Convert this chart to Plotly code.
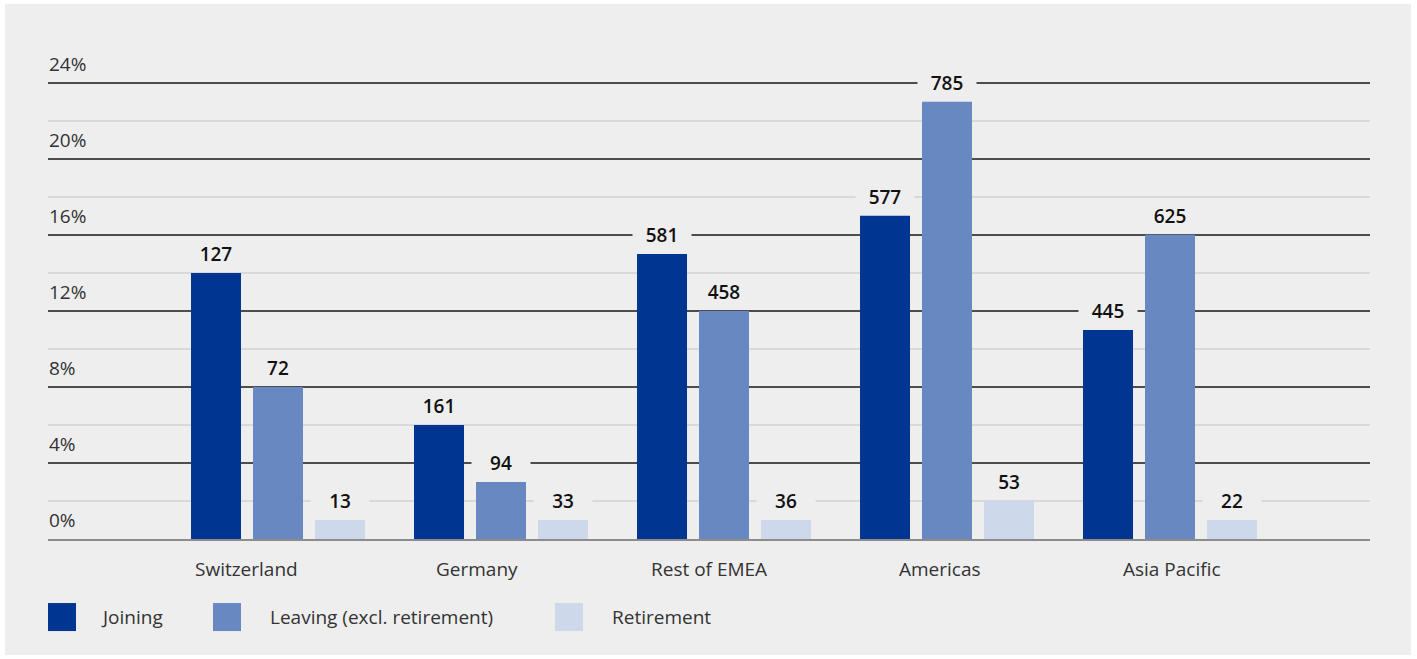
import plotly.graph_objects as go

regions = ["Switzerland", "Germany", "Rest of EMEA", "Americas", "Asia Pacific"]
series_names = ["Joining", "Leaving (excl. retirement)", "Retirement"]
joining_pct = [14, 6, 15, 17, 11]
leaving_pct = [8, 3, 12, 23, 16]
retirement_pct = [1, 1, 1, 2, 1]
joining_n = [127, 161, 581, 577, 445]
leaving_n = [72, 94, 458, 785, 625]
retirement_n = [13, 33, 36, 53, 22]
y_ticks = [0, 4, 8, 12, 16, 20, 24]
y_tick_labels = ["0%", "4%", "8%", "12%", "16%", "20%", "24%"]

colors = ["#003591", "#6788c1", "#cdd8ea"]
BG = "#eeeeee"
W, H = 1417, 659
L, R, T, B = 48, 1370, 83, 539
YMAX = 24.2
T_adj = B - (B - T) * YMAX / 24

def px_x(p):
    return (p - L) / (R - L)

def px_y(p):
    return (B - p) / (B - T_adj)

FONT = "Open Sans"
FS = 19
fig = go.Figure()
pcts = [joining_pct, leaving_pct, retirement_pct]
counts = [joining_n, leaving_n, retirement_n]
for name, pct, col in zip(series_names, pcts, colors):
    fig.add_trace(go.Bar(x=regions, y=pct, name=name, marker=dict(color=col, line=dict(width=0)),
                         showlegend=False, hoverinfo="skip"))

annotations = []
offsets = [-1, 0, 1]
for k, (pct, cnt) in enumerate(zip(pcts, counts)):
    for i, (v, c) in enumerate(zip(pct, cnt)):
        annotations.append(dict(x=regions[i], y=v, xref="x", yref="y", text=str(c),
                                showarrow=False, yanchor="bottom", xanchor="center",
                                xshift=offsets[k] * 62, yshift=7, width=58, height=22,
                                bgcolor=BG, borderpad=0,
                                font=dict(family=FONT, size=FS, color="#111111", weight=600)))

for v, t in zip(y_ticks, y_tick_labels):
    annotations.append(dict(x=0, y=v, xref="paper", yref="y", text=t, showarrow=False,
                            xanchor="left", yanchor="bottom", yshift=5, borderpad=0,
                            font=dict(family=FONT, size=FS, color="#333333")))

label_shift = [-32, -24, -15, -7, 2]
for i, reg in enumerate(regions):
    annotations.append(dict(x=reg, y=0, xref="x", yref="y", text=reg, showarrow=False,
                            yanchor="middle", xanchor="center", xshift=label_shift[i], yshift=-30,
                            font=dict(family=FONT, size=FS, color="#333333")))

shapes = [dict(type="rect", xref="paper", yref="paper", x0=px_x(5), x1=px_x(1411),
               y0=px_y(655), y1=px_y(4), fillcolor=BG, line=dict(width=0), layer="below")]
legend_sw = [48, 213, 555]
legend_tx = [99, 268, 610]
for name, col, sx, tx in zip(series_names, colors, legend_sw, legend_tx):
    shapes.append(dict(type="rect", xref="paper", yref="paper", x0=px_x(sx), x1=px_x(sx + 28),
                       y0=px_y(631), y1=px_y(603), fillcolor=col, line=dict(width=0)))
    annotations.append(dict(x=px_x(tx), y=px_y(617), xref="paper", yref="paper", text=name,
                            showarrow=False, xanchor="left", yanchor="middle",
                            font=dict(family=FONT, size=FS, color="#333333")))

r0 = -(278 - L) / 223
r1 = r0 + (R - L) / 223

fig.update_layout(
    width=W, height=H,
    margin=dict(l=L, r=W - R, t=T_adj, b=H - B),
    paper_bgcolor="white", plot_bgcolor="rgba(0,0,0,0)",
    barmode="group", bargap=0.166, bargroupgap=0.1935,
    annotations=annotations, shapes=shapes,
    xaxis=dict(type="category", range=[r0, r1], showticklabels=False, showgrid=False,
               showline=True, linecolor="#8c8c8c", linewidth=2, zeroline=False, fixedrange=True),
    yaxis=dict(range=[0, YMAX], tickvals=y_ticks, showticklabels=False, showgrid=True,
               gridcolor="#4d4d4d", gridwidth=1.5, zeroline=False,
               minor=dict(dtick=2, tick0=0, showgrid=True, gridcolor="#d9d9d9", gridwidth=1.5),
               fixedrange=True),
    showlegend=False,
)

fig.write_html("out.html")
